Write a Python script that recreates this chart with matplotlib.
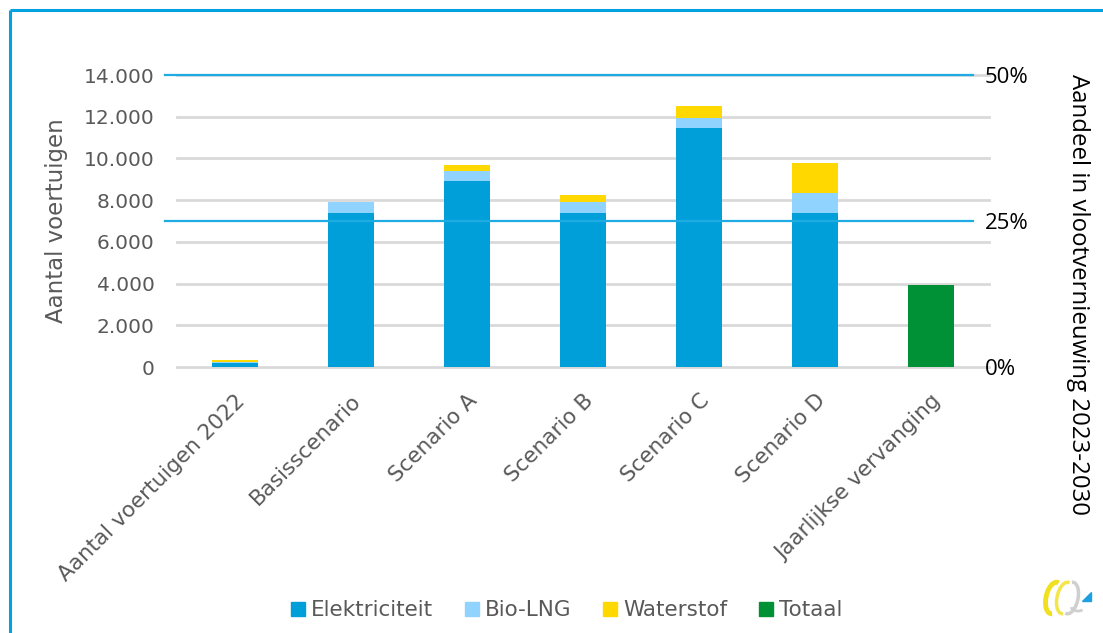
import matplotlib
matplotlib.use("Agg")
import matplotlib.pyplot as plt
import numpy as np
from matplotlib.lines import Line2D
from matplotlib.patches import Arc, Polygon

# vehicle counts per scenario, split by energy carrier
categories = ["Aantal voertuigen 2022", "Basisscenario", "Scenario A", "Scenario B",
              "Scenario C", "Scenario D", "Jaarlijkse vervanging"]
elektriciteit = [180, 7400, 8900, 7400, 11450, 7400, 0]
bio_lng = [60, 500, 500, 500, 500, 950, 0]
waterstof = [90, 0, 300, 350, 580, 1450, 0]
totaal = [0, 0, 0, 0, 0, 0, 3950]

left_ticks = [0, 2000, 4000, 6000, 8000, 10000, 12000, 14000]
left_ticklabels = ["0", "2.000", "4.000", "6.000", "8.000", "10.000", "12.000", "14.000"]
share_ticks = [0, 25, 50]
share_ticklabels = ["0%", "25%", "50%"]
share_lines = [25, 50]

C_ELEK = "#009fda"
C_BIO = "#8fd3fe"
C_H2 = "#ffd800"
C_TOT = "#009035"
C_LINE = "#1eaae3"
C_GRID = "#d9d9d9"
C_TEXT = "#595959"

plt.rcParams["font.family"] = "DejaVu Sans"

fig = plt.figure(figsize=(11.03, 6.33), dpi=100)
ax = fig.add_axes([0.1605, 0.4202, 0.7361, 0.4613])

x = np.arange(len(categories))
w = 0.4
el = np.array(elektriciteit)
bl = np.array(bio_lng)
h2 = np.array(waterstof)
ax.bar(x, el, w, color=C_ELEK, linewidth=0, label="Elektriciteit", zorder=3)
ax.bar(x, bl, w, bottom=el, color=C_BIO, linewidth=0, label="Bio-LNG", zorder=3)
ax.bar(x, h2, w, bottom=el + bl, color=C_H2, linewidth=0, label="Waterstof", zorder=3)
ax.bar(x, totaal, w, color=C_TOT, linewidth=0, label="Totaal", zorder=3)

ax.set_xlim(-0.5, len(categories) - 0.5)
ax.set_ylim(0, 14000)
ax.set_yticks(left_ticks)
ax.set_yticklabels(left_ticklabels)
ax.grid(axis="y", color=C_GRID, linewidth=2, zorder=0)
for gl in ax.yaxis.get_gridlines():
    gl.set_clip_on(False)
ax.set_axisbelow(True)
for s in ax.spines.values():
    s.set_visible(False)
ax.tick_params(axis="y", length=0, pad=16, labelsize=14.5, labelcolor=C_TEXT)
ax.tick_params(axis="x", length=0, pad=17, labelsize=15.5, labelcolor=C_TEXT)
ax.set_xticks(x)
ax.set_xticklabels(categories, rotation=45, ha="right", va="top", rotation_mode="anchor")
ax.set_ylabel("Aantal voertuigen", fontsize=16.5, color=C_TEXT)
ax.yaxis.set_label_coords(-0.134, 0.5)

# secondary axis: share of fleet renewal
ax2 = ax.twinx()
ax2.set_ylim(0, 50)
ax2.set_yticks(share_ticks)
ax2.set_yticklabels(share_ticklabels)
for s in ax2.spines.values():
    s.set_visible(False)
ax2.tick_params(axis="y", length=0, pad=-3, labelsize=16, labelcolor="black")
for lab in ax2.get_yticklabels():
    lab.set_fontfamily("Open Sans")
trans = ax2.get_yaxis_transform()
for v in share_lines:
    ax2.plot([-0.0148, 0.98], [v, v], color=C_LINE, linewidth=1.6, transform=trans,
             clip_on=False, zorder=4)

fig.text(1078 / 1103, 1 - 295 / 633, "Aandeel in vlootvernieuwing 2023-2030",
         rotation=-90, ha="center", va="center", fontsize=17.3, color="black",
         family="Open Sans")

handles = [Line2D([], [], marker="s", linestyle="", markersize=9.5, color=c)
           for c in (C_ELEK, C_BIO, C_H2, C_TOT)]
fig.legend(handles, ["Elektriciteit", "Bio-LNG", "Waterstof", "Totaal"],
           loc="center", bbox_to_anchor=(0.512, 0.036), ncol=4, frameon=False,
           fontsize=15.5, labelcolor=C_TEXT, handletextpad=0.1, columnspacing=1.3,
           handlelength=1.0)

# outer frame: only the left and top edges fall inside the image
fx, fy = 10 / 1103, 1 - 10 / 633
fig.add_artist(Line2D([fx, fx], [0, fy], transform=fig.transFigure,
                      color="#00a3e0", linewidth=2.2, solid_capstyle="butt"))
fig.add_artist(Line2D([fx, 1], [fy, fy], transform=fig.transFigure,
                      color="#00a3e0", linewidth=2.2, solid_capstyle="butt"))

# small logo in the lower right corner
lax = fig.add_axes([1038 / 1103, 1 - 618 / 633, 58 / 1103, 42 / 633])
lax.set_xlim(0, 58)
lax.set_ylim(0, 42)
lax.set_aspect("equal")
lax.axis("off")
lax.add_patch(Arc((16, 20), 16, 32, angle=-12, theta1=85, theta2=275,
                  color="#f0e020", linewidth=3.5))
lax.add_patch(Arc((27, 20), 16, 32, angle=-12, theta1=85, theta2=275,
                  color="#f4e64a", linewidth=2.5))
lax.add_patch(Arc((32, 20), 16, 32, angle=-12, theta1=-95, theta2=95,
                  color="#cfcfcf", linewidth=2.5))
lax.add_patch(Arc((40, 12), 14, 10, theta1=190, theta2=320,
                  color="#cfcfcf", linewidth=2))
lax.add_patch(Polygon([[44, 17], [53, 17], [53, 26]], closed=True, color="#1ea0e0"))

fig.savefig("out.png", dpi=100)
